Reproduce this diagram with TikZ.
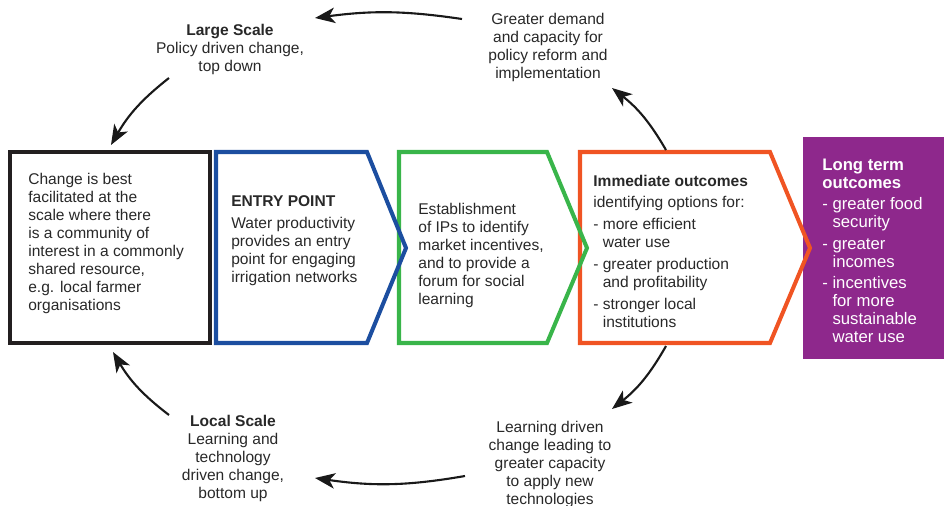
\documentclass[tikz,border=0pt]{standalone}
\usepackage{fontspec}
\setmainfont{Liberation Sans}
\usepackage{xcolor}
\usetikzlibrary{arrows.meta}

\definecolor{boxblack}{RGB}{35,31,32}
\definecolor{entryblue}{RGB}{28,78,160}
\definecolor{ipgreen}{RGB}{57,181,74}
\definecolor{outorange}{RGB}{240,84,35}
\definecolor{longpurple}{RGB}{142,40,140}
\definecolor{txtgray}{RGB}{40,40,40}

\newcommand{\ind}{\hphantom{-\ }}

\tikzset{
  txt/.style={font=\fontsize{8.85}{10.25}\selectfont, text=txtgray, inner sep=0pt},
  purpletxt/.style={font=\fontsize{9.5}{10.3}\selectfont, text=white, inner sep=0pt, align=left, anchor=north west},
  chevron/.style={line width=2.3pt},
  cycarrow/.style={line width=1.2pt, black!90, -{Stealth[length=4mm,width=3.1mm,inset=1.1mm]}}
}

\begin{document}
\begin{tikzpicture}[x=0.02cm, y=-0.02cm]
  \useasboundingbox (0,0) rectangle (944,505);

  % Draw the boxes from right to left so each tip sits on top
  \fill[longpurple] (803,137) rectangle (944,359);
  \draw[chevron, outorange] (580,152) -- (770,152) -- (810,248) -- (770,343) -- (580,343) -- cycle;
  \draw[chevron, ipgreen] (399,152) -- (547,152) -- (587,248) -- (547,343) -- (399,343) -- cycle;
  \draw[chevron, entryblue] (216,152) -- (367,152) -- (406,248) -- (367,343) -- (216,343) -- cycle;
  \draw[chevron, boxblack] (10,152) rectangle (210,343);

  % Text inside the boxes
  \node[txt, align=left, anchor=north west] (community) at (28,172.4)
    {Change is best\\facilitated at the\\scale where there\\is a community of\\interest in a commonly\\shared resource,\\e.g. local farmer\\organisations};
  \node[txt, align=left, anchor=north west] (entry) at (231,195.4)
    {\textbf{ENTRY POINT}\\[2pt]Water productivity\\provides an entry\\point for engaging\\irrigation networks};
  \node[txt, align=left, anchor=north west] (ips) at (418,202.4)
    {Establishment\\of IPs to identify\\market incentives,\\and to provide a\\forum for social\\learning};
  \node[txt, align=left, anchor=north west] (immediate) at (593,174.4)
    {\textbf{Immediate outcomes}\\[2.2pt]identifying options for:\\[1.8pt]- more efficient\\\ind water use\\[2.4pt]- greater production\\\ind and profitability\\[2.4pt]- stronger local\\\ind institutions};
  \node[purpletxt] (longterm) at (822,159)
    {\textbf{Long term}\\\textbf{outcomes}\\[1.6pt]- greater food\\\ind security\\[1.8pt]- greater\\\ind incomes\\[1.6pt]- incentives\\\ind for more\\\ind sustainable\\\ind water use};

  % Labels round the loop
  \node[txt, align=center, anchor=north] (large) at (230,23.4)
    {\textbf{Large Scale}\\Policy driven change,\\top down};
  \node[txt, align=center, anchor=north] (demand) at (548,12.4)
    {Greater demand\\and capacity for\\policy reform and\\implementation};
  \node[txt, align=center, anchor=north] (local) at (233,414.4)
    {\textbf{Local Scale}\\Learning and\\technology\\driven change,\\bottom up};
  \node[txt, align=center, anchor=north] (learning) at (550,420.4)
    {Learning driven\\change leading to\\greater capacity\\to apply new\\technologies};

  % Arrow ends
  \coordinate (demandout) at (462,19);
  \coordinate (largein) at (315,18);
  \coordinate (largeout) at (169,78);
  \coordinate (boxtop) at (111,145);
  \coordinate (orangetop) at (666,150);
  \coordinate (demandin) at (612,88);
  \coordinate (orangebot) at (666,346);
  \coordinate (learningin) at (612,409);
  \coordinate (learningout) at (465,476);
  \coordinate (localin) at (315,478);
  \coordinate (localout) at (169,415);
  \coordinate (boxbot) at (113,352);

  % Top loop
  \draw[cycarrow] (orangetop) to[bend right=11] (demandin);
  \draw[cycarrow] (demandout) to[bend right=8] (largein);
  \draw[cycarrow] (largeout) to[bend right=11] (boxtop);
  % Bottom loop
  \draw[cycarrow] (orangebot) to[bend left=11] (learningin);
  \draw[cycarrow] (learningout) to[bend left=9] (localin);
  \draw[cycarrow] (localout) to[bend left=11] (boxbot);
\end{tikzpicture}
\end{document}
